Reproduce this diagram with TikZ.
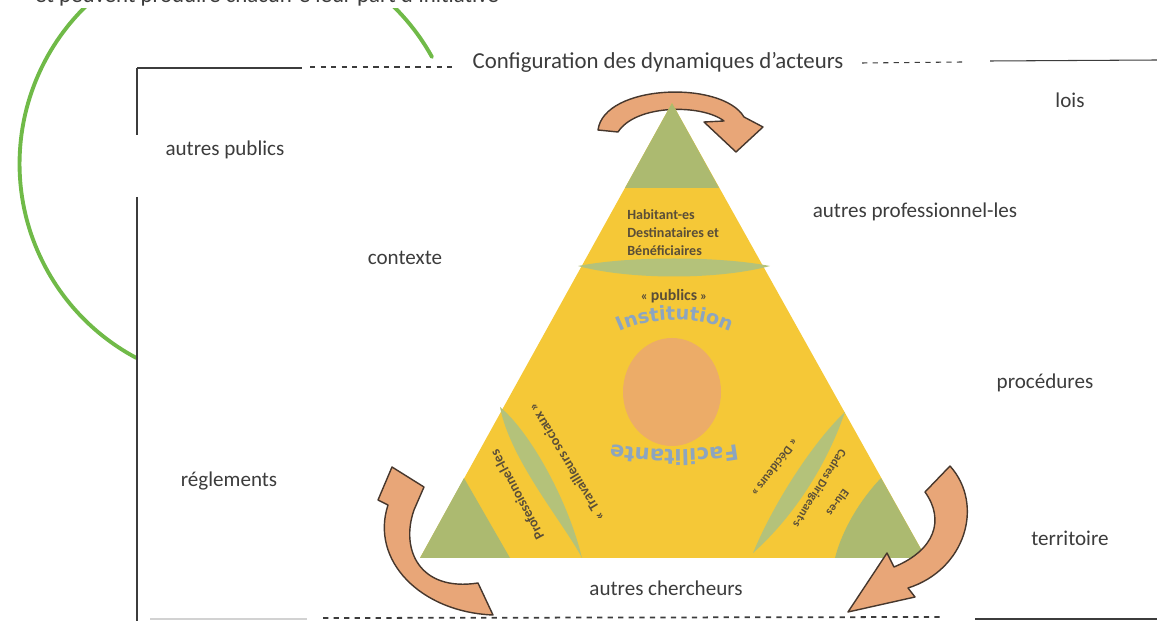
\documentclass[tikz,border=0pt]{standalone}
\usepackage{fontspec}
\setmainfont{Carlito}
\newfontfamily\wordartfont{DejaVu Sans}
\usetikzlibrary{decorations.text}

\definecolor{triyellow}{RGB}{245,200,55}
\definecolor{cornergreen}{RGB}{172,186,112}
\definecolor{bandgreen}{RGB}{180,194,122}
\definecolor{coreorange}{RGB}{236,172,104}
\definecolor{arrowfill}{RGB}{232,166,120}
\definecolor{arrowline}{RGB}{70,55,45}
\definecolor{arcgreen}{RGB}{112,186,72}
\definecolor{labelgray}{RGB}{60,60,60}
\definecolor{innertext}{RGB}{90,78,55}
\definecolor{wordart}{RGB}{140,165,192}

\tikzset{
  lbl/.style={text=labelgray, font=\fontsize{12}{14}\selectfont, inner sep=0pt},
  inner/.style={text=innertext, font=\bfseries\fontsize{7.5}{9}\selectfont, inner sep=0pt},
  turnarrow/.style={fill=arrowfill, draw=arrowline, line width=0.8pt, line join=round},
  frameline/.style={draw=labelgray, line width=0.6pt},
}

\begin{document}
\begin{tikzpicture}[x=0.02cm, y=-0.02cm]
\useasboundingbox (0,0) rectangle (1157,621);

% Green arc
\draw[arcgreen, line width=2.2pt, line cap=round] (432,57) arc[start angle=-29, end angle=-242, radius=220];
\node[lbl, font=\fontsize{13}{15}\selectfont, anchor=base west, fill=white, inner sep=1pt] (note) at (33,3) {et peuvent produire chacun-e leur part d'initiative};

% Frame
\draw[frameline] (137,68) -- (137,135);
\draw[frameline] (137,197) -- (137,621);
\draw[frameline] (137,68) -- (302,68);
\draw[frameline, dashed] (310,67) -- (456,67);
\node[lbl, font=\fontsize{13}{15}\selectfont] (title) at (658,62) {Configuration des dynamiques d’acteurs};
\draw[frameline, dashed] (862,63) -- (962,62);
\draw[frameline] (990,61) -- (1157,60);
\draw[gray!35, line width=1.5pt] (150,619) -- (307,619);
\draw[frameline, dashed, line width=1pt] (323,618) -- (940,617);
\draw[frameline] (975,619) -- (1157,619);

% Outer labels
\node[lbl] (publicsout) at (225,150) {autres publics};
\node[lbl] (lois) at (1070,100) {lois};
\node[lbl] (profs) at (915,212) {autres professionnel-les};
\node[lbl] (contexte) at (405,258) {contexte};
\node[lbl] (procedures) at (1045,383) {procédures};
\node[lbl] (reglements) at (229,481) {réglements};
\node[lbl] (territoire) at (1070,538) {territoire};
\node[lbl] (chercheurs) at (666,588) {autres chercheurs};

% Top arrow
\filldraw[turnarrow] (598,130) .. controls (604,84) and (722,80) .. (744,117) -- (763,127) -- (736,152) -- (704,122) -- (724,121) .. controls (702,104) and (636,104) .. (618,132) -- cycle;

% Triangle
\coordinate (apex) at (672,103);
\coordinate (right) at (926,558);
\coordinate (left) at (420,558);
\fill[triyellow] (apex) -- (right) -- (left) -- cycle;

% Green corners
\fill[cornergreen] (apex) -- (719,188) -- (625,188) -- cycle;
\fill[cornergreen] (left) -- (464,478) -- (510,558) -- cycle;
\fill[cornergreen] (right) -- (881,478) .. controls (860,500) and (842,530) .. (835,558) -- cycle;

% Green bands
\fill[bandgreen] (578,266) .. controls (630,256) and (718,256) .. (770,266) .. controls (718,280) and (630,280) .. (578,266) -- cycle;
\fill[bandgreen] (500,407) .. controls (530,432) and (568,500) .. (582,558) .. controls (565,525) and (510,460) .. (500,407) -- cycle;
\fill[bandgreen] (845,412) .. controls (825,470) and (790,520) .. (753,553) .. controls (775,500) and (815,440) .. (845,412) -- cycle;

% Core
\fill[coreorange] (672,392) ellipse[x radius=49, y radius=54];

% Texts inside
\node[inner, font=\bfseries\fontsize{8}{10.2}\selectfont, align=left, anchor=north west] (habitants) at (627,209) {Habitant-es\\Destinataires et\\Bénéficiaires};
\node[inner] (publics) at (674,296) {« {\fontsize{9}{10}\selectfont publics} »};
\path[decorate, decoration={text along path, text align=center, text color=wordart,
  text={|\wordartfont\bfseries\fontsize{11}{13}\selectfont|Institution}}]
  (608,338) .. controls (645,314) and (705,314) .. (742,338);
\path[decorate, decoration={text along path, text align=center, text color=wordart,
  text={|\wordartfont\bfseries\fontsize{12}{14}\selectfont|Facilitante}}]
  (752,441) .. controls (710,452) and (640,452) .. (596,441);
\node[inner, font=\bfseries\fontsize{8}{9}\selectfont, rotate=118] (profes) at (517,495) {Professionnel-les};
\node[inner, font=\bfseries\fontsize{8}{9}\selectfont, rotate=121] (travail) at (566,462) {« Travailleurs sociaux »};
\node[inner, font=\bfseries\fontsize{7}{8}\selectfont, rotate=-127] (decid) at (775,468) {« Décideurs »};
\node[inner, font=\bfseries\fontsize{6.8}{8}\selectfont, rotate=-122] (cadres) at (819,488) {Cadres Dirigeant-s};
\node[inner, font=\bfseries\fontsize{6.8}{8}\selectfont, rotate=-126] (elus) at (838,503) {Elu-es};

% Bottom arrows
\filldraw[turnarrow] (493,615) .. controls (420,612) and (370,560) .. (388,505) -- (378,500) -- (392,467) -- (424,487) -- (414,510) .. controls (400,550) and (420,592) .. (478,583) -- cycle;
\filldraw[turnarrow] (950,466) .. controls (985,505) and (965,570) .. (908,588) -- (915,597) -- (848,612) -- (887,553) -- (894,567) .. controls (935,550) and (945,520) .. (925,492) -- cycle;

\end{tikzpicture}
\end{document}
